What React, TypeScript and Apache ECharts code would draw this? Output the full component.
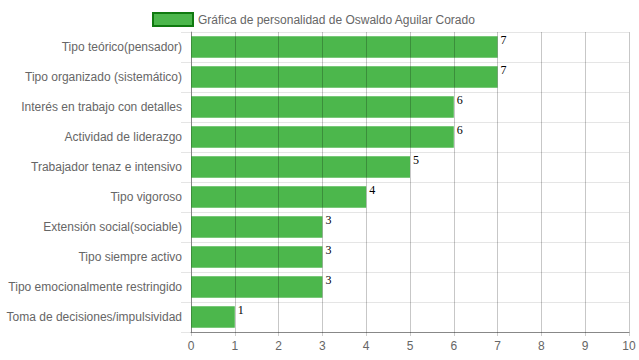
import React, { useEffect, useRef } from "react";
import * as echarts from "echarts";

const categories = [
  "Tipo teórico(pensador)",
  "Tipo organizado (sistemático)",
  "Interés en trabajo con detalles",
  "Actividad de liderazgo",
  "Trabajador tenaz e intensivo",
  "Tipo vigoroso",
  "Extensión social(sociable)",
  "Tipo siempre activo",
  "Tipo emocionalmente restringido",
  "Toma de decisiones/impulsividad",
];
const values = [7, 7, 6, 6, 5, 4, 3, 3, 3, 1];
const seriesName = "Gráfica de personalidad de Oswaldo Aguilar Corado";

export default function App() {
  const ref = useRef<HTMLDivElement>(null);
  useEffect(() => {
    if (!ref.current) return;
    const chart = echarts.init(ref.current, null, { renderer: "svg" });
    chart.setOption({
      animation: false,
      legend: {
        top: 7,
        left: 147,
        itemWidth: 40,
        itemHeight: 13,
        itemGap: 6,
        icon: "rect",
        textStyle: { color: "#666", fontSize: 12, fontFamily: "Liberation Sans, Arial, sans-serif" },
        data: [
          {
            name: seriesName,
            icon: "rect",
            itemStyle: { color: "#4cb74c", borderColor: "#107a10", borderWidth: 2 },
          },
        ],
      },
      grid: { left: 191, right: 10, top: 32, bottom: 28 },
      xAxis: {
        type: "value",
        min: 0,
        max: 10,
        interval: 1,
        z: 3,
        axisLine: { show: true, lineStyle: { color: "#888", width: 1 } },
        axisTick: { show: true, length: 4, lineStyle: { color: "rgba(0,0,0,0.2)" } },
        axisLabel: {
          color: "#666",
          fontSize: 12,
          margin: 8,
          fontFamily: "Liberation Sans, Arial, sans-serif",
        },
        splitLine: { show: true, lineStyle: { color: "rgba(0,0,0,0.22)", width: 1 } },
      },
      yAxis: {
        type: "category",
        inverse: true,
        data: categories,
        axisLine: { show: true, lineStyle: { color: "#aaa" } },
        axisTick: { show: true, length: 10, lineStyle: { color: "rgba(0,0,0,0.1)" } },
        axisLabel: {
          color: "#666",
          fontSize: 12,
          margin: 9,
          fontFamily: "Liberation Sans, Arial, sans-serif",
        },
        splitLine: { show: true, lineStyle: { color: "rgba(0,0,0,0.1)" } },
      },
      series: [
        {
          name: seriesName,
          type: "bar",
          data: values,
          barCategoryGap: "28%",
          itemStyle: { color: "#4cb74c" },
          label: {
            show: true,
            position: ["100%", 0],
            offset: [3, -2],
            align: "left",
            verticalAlign: "top",
            color: "#000",
            fontSize: 12,
            fontFamily: "Liberation Serif, Times New Roman, serif",
          },
        },
      ],
    });
    return () => chart.dispose();
  }, []);
  return <div ref={ref} style={{ width: 639, height: 360, position: "absolute", left: 0, top: 0 }} />;
}
